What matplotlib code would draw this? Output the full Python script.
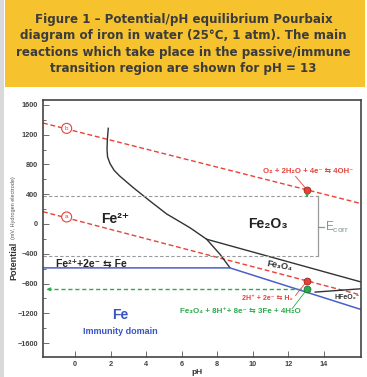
import matplotlib
matplotlib.use('Agg')
import matplotlib.pyplot as plt
import matplotlib.patches as patches
from matplotlib.ticker import MultipleLocator

plt.rcParams['font.family'] = ['Liberation Sans', 'DejaVu Sans']

# --- data (pH, potential in mV) ---
title = ("Figure 1 \u2013 Potential/pH equilibrium Pourbaix\n"
         "diagram of iron in water (25\u00b0C, 1 atm). The main\n"
         "reactions which take place in the passive/immune\n"
         "transition region are shown for pH = 13")

x_ticks = [0, 2, 4, 6, 8, 10, 12, 14]
y_ticks = [-1600, -1200, -800, -400, 0, 400, 800, 1200, 1600]

# Fe2+ / Fe2O3 / Fe3O4 boundary curve
curve_ph = [1.87, 1.82, 1.80, 1.83, 1.97, 2.20, 2.53, 3.28, 4.21, 5.15, 6.46, 7.40, 8.15, 8.71]
curve_e = [1285, 1141, 1000, 900, 810, 720, 640, 487, 309, 135, -50, -205, -407, -587]
# Fe2O3 / Fe3O4
oxide_ph = [7.40, 16.1]
oxide_e = [-205, -780]
# Fe3O4 / HFeO2-
hfeo2_ph = [13.5, 16.1]
hfeo2_e = [-915, -870]
# Fe immunity boundary (blue)
fe_ph = [-1.8, 8.71, 16.1]
fe_e = [-590, -590, -1150]
# water lines a and b
line_a_ph = [-1.8, 16.1]
line_a_e = [165, -956]
line_b_ph = [-1.8, 16.1]
line_b_e = [1356, 273]

# corrosion potential bracket
ecorr_ph = 13.65
ecorr_top = 375
ecorr_bot = -430
# reaction points at pH 13
pt_ph = 13.05
o2_e = 456
h2_e = -765
fe3o4_e = -877

red = '#e8413a'
green = '#2eaa4e'
blue = '#4a5fc8'
tblue = '#3b55c4'
dark = '#333333'
gray = '#9a9a9a'

fig = plt.figure(figsize=(3.67, 3.77), dpi=100)

# frame strip and yellow title box
fig.patches.append(patches.Rectangle((0, 0), 4 / 367, 1, transform=fig.transFigure,
                                     fc='#d9d9d9', ec='none'))
fig.patches.append(patches.Rectangle((5 / 367, 1 - 87 / 377), 360 / 367, 87 / 377,
                                     transform=fig.transFigure, fc='#f6c22e', ec='none'))
fig.text(0.5, 1 - 44 / 377, title, ha='center', va='center', fontsize=8.6,
         family='DejaVu Sans', fontweight='bold', color='#3c3c3c', linespacing=1.36)

ax = fig.add_axes([43 / 367, 1 - 356.5 / 377, 318 / 367, 256.5 / 377])
ax.set_xlim(-1.8, 16.08)
ax.set_ylim(-1780, 1665)
ax.set_xticks(x_ticks)
ax.set_yticks(y_ticks)
ax.yaxis.set_minor_locator(MultipleLocator(200))
ax.tick_params(direction='in', labelsize=5.3, colors='#555555', labelcolor='#444444',
               length=4, width=0.6)
ax.tick_params(which='minor', direction='in', length=2.5, width=0.6, colors='#555555')
for lab in ax.get_xticklabels() + ax.get_yticklabels():
    lab.set_fontweight('bold')
for sp in ax.spines.values():
    sp.set_color('#444444')
    sp.set_linewidth(1.2)

# water lines
ax.plot(line_b_ph, line_b_e, color=red, ls=(0, (3.5, 2)), lw=1.0)
ax.plot(line_a_ph, line_a_e, color=red, ls=(0, (3.5, 2)), lw=1.0)
for lab, e in [('b', 1284), ('a', 94)]:
    ax.text(-0.47, e, lab, fontsize=4.5, color=red, ha='center', va='center',
            bbox=dict(boxstyle='circle,pad=0.4', fc='white', ec=red, lw=0.8))

# phase boundaries
ax.plot(curve_ph, curve_e, color=dark, lw=1.0)
ax.plot(oxide_ph, oxide_e, color=dark, lw=1.0)
ax.plot(hfeo2_ph, hfeo2_e, color=dark, lw=1.0)
ax.plot(fe_ph, fe_e, color=blue, lw=1.1)

# Ecorr bracket
ax.plot([-1.8, ecorr_ph], [ecorr_top, ecorr_top], color=gray, ls=(0, (3, 2)), lw=0.8)
ax.plot([-1.8, ecorr_ph], [ecorr_bot, ecorr_bot], color=gray, ls=(0, (3, 2)), lw=0.8)
ax.plot([ecorr_ph, ecorr_ph], [ecorr_top, ecorr_bot], color=gray, lw=0.9)
ax.plot([ecorr_ph, 14.0], [-45, -45], color='#7f9a8c', lw=0.9)
ax.text(14.05, -45, r'$\mathregular{E_{corr}}$', color='#7f9a8c', fontsize=8.5,
        va='center', ha='left')

# green Fe3O4/Fe line at pH 13
ax.plot([-1.6, pt_ph], [fe3o4_e, fe3o4_e], color=green, ls=(0, (3, 2)), lw=1.0)
ax.annotate('', xy=(-1.75, fe3o4_e), xytext=(-1.2, fe3o4_e),
            arrowprops=dict(arrowstyle='-|>', color=green, lw=0.8, mutation_scale=5))
ax.annotate('', xy=(pt_ph, ecorr_top - 20), xytext=(pt_ph, o2_e - 40),
            arrowprops=dict(arrowstyle='-|>', color=green, lw=0.8, mutation_scale=4))

# connectors and points
ax.plot([pt_ph, 12.4], [o2_e, 640], color=red, lw=0.6)
ax.plot([pt_ph, 12.4], [h2_e, -960], color=red, lw=0.6)
ax.plot([pt_ph, 12.2], [fe3o4_e, -1140], color=green, lw=0.6)
ax.plot([pt_ph], [o2_e], 'o', color=red, mec='#8a1a12', mew=0.5, ms=5)
ax.plot([pt_ph], [h2_e], 'o', color=red, mec='#8a1a12', mew=0.5, ms=5)
ax.plot([pt_ph], [fe3o4_e], 'o', color=green, mec='#156b2c', mew=0.5, ms=5)

# labels
ax.text(2.25, 67, 'Fe\u00b2\u207a', fontsize=10, fontweight='bold', color='#222222',
        ha='center', va='center')
ax.text(10.85, 0, 'Fe\u2082O\u2083', fontsize=10, fontweight='bold', color='#222222',
        ha='center', va='center')
ax.text(11.5, -560, 'Fe\u2083O\u2084', fontsize=6.5, fontweight='bold', color='#333333',
        ha='center', va='center', rotation=-10)
ax.text(15.3, -990, 'HFeO\u2082\u207b', fontsize=5, fontweight='bold', color='#333333',
        ha='center', va='center')
ax.text(-1.05, -533, 'Fe\u00b2\u207a+2e\u207b \u21c6 Fe', fontsize=7.5, fontweight='bold',
        color='#222222', ha='left', va='center')
ax.text(13.1, 711, 'O\u2082 + 2H\u2082O + 4e\u207b \u21c6 4OH\u207b', fontsize=5.6,
        fontweight='bold', color=red, ha='center', va='center')
ax.text(10.8, -1005, '2H\u207a + 2e\u207b \u21c6 H\u2082', fontsize=5,
        fontweight='bold', color=red, ha='center', va='center')
ax.text(9.27, -1190, 'Fe\u2083O\u2084 + 8H\u207a+ 8e\u207b \u21c6 3Fe + 4H\u2082O', fontsize=5.8,
        fontweight='bold', color=green, ha='center', va='center')
ax.text(2.53, -1221, 'Fe', fontsize=10, fontweight='bold', color=tblue,
        ha='center', va='center')
ax.text(2.53, -1446, 'Immunity domain', fontsize=6.5, fontweight='bold', color=tblue,
        ha='center', va='center')

# axis labels
fig.text(14 / 367, 1 - 261 / 377, 'Potential', rotation=90, fontsize=6.5,
         fontweight='bold', color='#333333', ha='center', va='center')
fig.text(14 / 367, 1 - 208 / 377, '(mV, Hydrogen electrode)', rotation=90, fontsize=4,
         color='#555555', ha='center', va='center')
fig.text(197 / 367, 1 - 372 / 377, 'pH', fontsize=6, fontweight='bold', color='#333333',
         ha='center', va='center')

fig.savefig('out.png', dpi=100)
